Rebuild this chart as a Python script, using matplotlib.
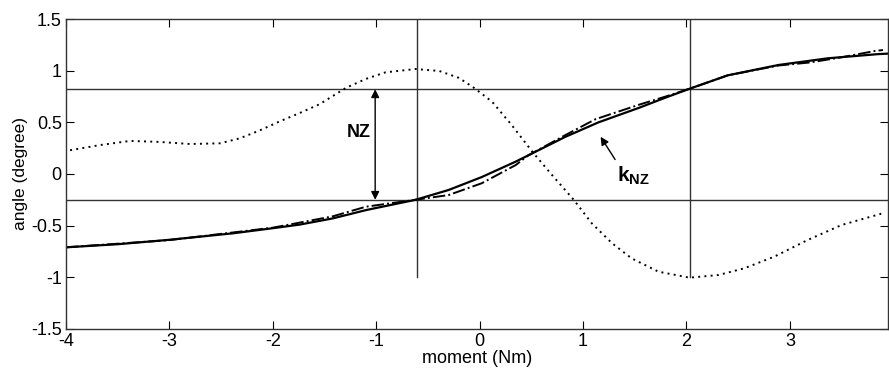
import matplotlib
matplotlib.use("Agg")
import matplotlib.pyplot as plt

plt.rcParams['font.family'] = ['Liberation Sans', 'DejaVu Sans']
plt.rcParams['mathtext.fontset'] = 'custom'
plt.rcParams['mathtext.rm'] = 'Liberation Sans'
plt.rcParams['mathtext.bf'] = 'Liberation Sans:bold'

# measured curve (solid)
x_meas = [-4.0, -3.5, -3.03, -2.39, -2.0, -1.74, -1.42, -1.10, -0.62, -0.30, 0.02, 0.35,
          0.67, 0.83, 1.15, 1.54, 1.80, 2.03, 2.40, 2.89, 3.37, 3.85, 3.95]
y_meas = [-0.71, -0.68, -0.64, -0.575, -0.525, -0.49, -0.43, -0.35, -0.25, -0.155, -0.03, 0.12,
          0.28, 0.36, 0.50, 0.64, 0.74, 0.825, 0.955, 1.055, 1.12, 1.16, 1.165]

# model curve (dash-dot)
x_mod = [-4.0, -3.0, -2.0, -1.42, -1.10, -0.62, -0.30, 0.02, 0.35, 0.47, 0.83, 1.12,
         1.54, 1.80, 2.03, 2.40, 2.89, 3.2, 3.5, 3.82, 3.9]
y_mod = [-0.71, -0.64, -0.52, -0.41, -0.317, -0.25, -0.204, -0.09, 0.087, 0.18, 0.377, 0.53,
         0.67, 0.75, 0.825, 0.955, 1.05, 1.08, 1.13, 1.19, 1.20]

# dotted curve
x_dot = [-3.96, -3.67, -3.38, -3.09, -2.80, -2.51, -2.32, -2.13, -1.94, -1.74, -1.55, -1.29,
         -1.10, -0.91, -0.62, -0.39, -0.20, -0.056, 0.12, 0.31, 0.51, 0.70, 0.91, 1.085,
         1.28, 1.47, 1.73, 2.03, 2.31, 2.56, 2.85, 3.17, 3.50, 3.90]
y_dot = [0.23, 0.28, 0.32, 0.31, 0.29, 0.297, 0.345, 0.42, 0.506, 0.59, 0.674, 0.835,
         0.92, 0.984, 1.016, 0.997, 0.93, 0.835, 0.70, 0.474, 0.215, -0.01, -0.25, -0.478,
         -0.67, -0.817, -0.946, -1.004, -0.978, -0.913, -0.80, -0.64, -0.494, -0.38]

h_lines = [0.82, -0.25]
v_lines = [-0.61, 2.03]

fig = plt.figure(figsize=(8.89, 3.70), dpi=100)
ax = fig.add_axes([0.0742, 0.111, 0.9248, 0.8376])

for yy in h_lines:
    ax.axhline(yy, color='#333333', lw=1.0)
for xx in v_lines:
    ax.plot([xx, xx], [-1.0, 1.5], color='#333333', lw=1.0)

ax.plot(x_dot, y_dot, color='black', ls=(0, (1, 2.2)), lw=1.4)
ax.plot(x_mod, y_mod, color='black', ls='-.', lw=1.4)
ax.plot(x_meas, y_meas, color='black', ls='-', lw=1.6)

ax.annotate('', xy=(-1.01, 0.82), xytext=(-1.01, -0.25),
            arrowprops=dict(arrowstyle='<|-|>', color='black', lw=1.0,
                            mutation_scale=12, shrinkA=0, shrinkB=0))
ax.text(-1.17, 0.40, 'NZ', fontsize=13, fontweight='bold', ha='center', va='center')

ax.annotate('', xy=(1.17, 0.36), xytext=(1.31, 0.14),
            arrowprops=dict(arrowstyle='-|>', color='black', lw=1.0,
                            mutation_scale=12, shrinkA=0, shrinkB=0))
ax.text(1.49, -0.02, r'$\mathbf{k}_{\mathbf{NZ}}$', fontsize=15, ha='center', va='center')

ax.set_xlim(-4, 3.95)
ax.set_ylim(-1.5, 1.5)
ax.set_xticks([-4, -3, -2, -1, 0, 1, 2, 3])
ax.set_yticks([-1.5, -1, -0.5, 0, 0.5, 1, 1.5])
ax.set_yticklabels(['-1.5', '-1', '-0.5', '0', '0.5', '1', '1.5'])
ax.set_xticklabels(['-4', '-3', '-2', '-1', '0', '1', '2', '3'])
ax.tick_params(direction='in', top=True, right=True, labelsize=13, length=6, pad=3)
for s in ax.spines.values():
    s.set_linewidth(1.0)
    s.set_color('#333333')

ax.set_xlabel('moment (Nm)', fontsize=13, labelpad=0)
ax.set_ylabel('angle (degree)', fontsize=12.5, labelpad=2)

fig.savefig('out.png', dpi=100)
